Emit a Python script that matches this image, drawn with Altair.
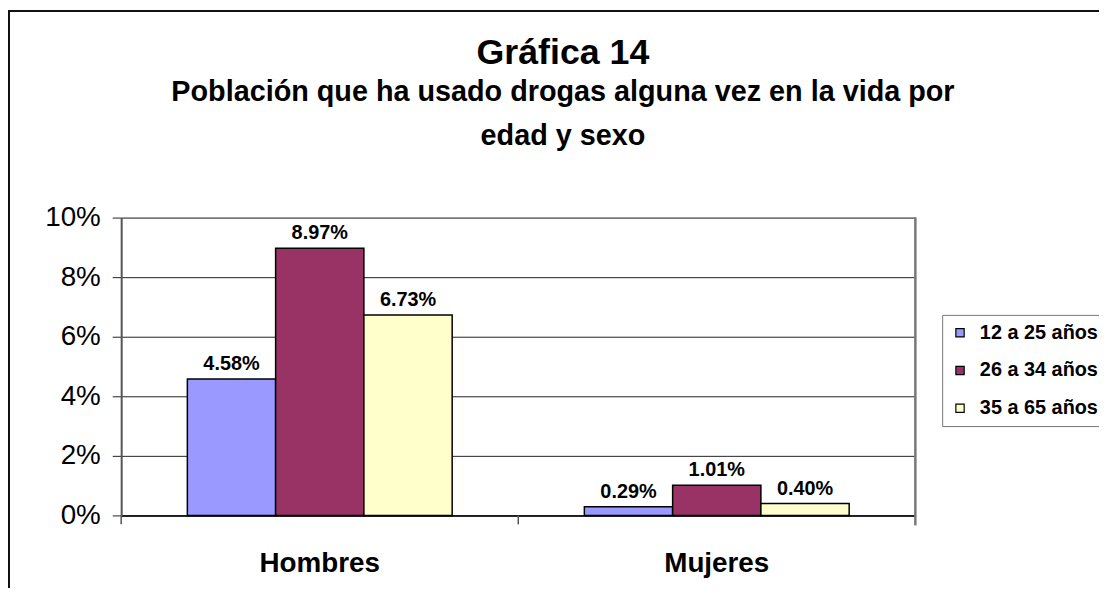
import altair as alt
import pandas as pd

categories = ["Hombres", "Mujeres"]
series = ["12 a 25 años", "26 a 34 años", "35 a 65 años"]
hombres = [0.0458, 0.0897, 0.0673]
mujeres = [0.0029, 0.0101, 0.0040]
colors = ["#9999FF", "#993366", "#FFFFCC"]
y_ticks = [0, 0.02, 0.04, 0.06, 0.08, 0.10]

rows = []
for s, h, m in zip(series, hombres, mujeres):
    rows.append({"sexo": "Hombres", "edad": s, "valor": h})
    rows.append({"sexo": "Mujeres", "edad": s, "valor": m})
df = pd.DataFrame(rows)
cat_df = pd.DataFrame({"sexo": categories})

FONT = "Liberation Sans"
W, H = 800, 300
PAD_L, PAD_T, PAD_R, PAD_B = 114, 209, 185, 73

x_scale = alt.Scale(domain=categories, paddingInner=0.333, paddingOuter=0.1667)
off_scale = alt.Scale(domain=series, paddingInner=0, paddingOuter=0)

x_enc = alt.X(
    "sexo:N",
    sort=categories,
    scale=x_scale,
    axis=alt.Axis(
        title=None, labelAngle=0, labelFont=FONT, labelFontSize=28,
        labelFontWeight="bold", labelColor="black", labelPadding=35,
        domainColor="black", domainWidth=1.5, ticks=False, grid=False,
    ),
)
y_enc = alt.Y(
    "valor:Q",
    scale=alt.Scale(domain=[0, 0.10], nice=False),
    axis=alt.Axis(
        title=None, values=y_ticks, format=".0%", labelFont=FONT,
        labelFontSize=28, labelColor="black", labelPadding=12,
        domainColor="#555555", domainWidth=2, tickColor="#222222", tickSize=9,
        grid=True, gridColor="#222222", gridWidth=1, gridOpacity=1,
    ),
)

bars = alt.Chart(df).mark_bar(stroke="black", strokeWidth=1.5).encode(
    x=x_enc,
    xOffset=alt.XOffset("edad:N", sort=series, scale=off_scale),
    y=y_enc,
    color=alt.Color(
        "edad:N", sort=series,
        scale=alt.Scale(domain=series, range=colors),
        legend=alt.Legend(
            title=None, orient="none", legendX=827, legendY=98,
            fillColor="white", strokeColor="#777777",
            padding=8, symbolType="square", symbolSize=70,
            symbolStrokeColor="black", symbolStrokeWidth=1.2,
            labelFont=FONT, labelFontSize=20, labelFontWeight="bold",
            labelColor="black", rowPadding=18, labelOffset=10,
            labelLimit=300,
        ),
    ),
)

labels = alt.Chart(df).mark_text(
    font=FONT, fontSize=20, fontWeight="bold", color="black",
    baseline="bottom", dy=-5,
).encode(
    x=alt.X("sexo:N", sort=categories, scale=x_scale, axis=None),
    xOffset=alt.XOffset("edad:N", sort=series, scale=off_scale),
    y=alt.Y("valor:Q"),
    text=alt.Text("valor:Q", format=".2%"),
)

cat_ticks = alt.Chart(cat_df).mark_rule(color="#555555", strokeWidth=1.5).encode(
    x=alt.X("sexo:N", sort=categories, bandPosition=0, axis=None,
            scale=alt.Scale(domain=categories, paddingInner=0, paddingOuter=0)),
    y=alt.value(H), y2=alt.value(H + 9),
)
right_tick = alt.Chart(cat_df).mark_rule(color="#777777", strokeWidth=2).encode(
    x=alt.value(W), y=alt.value(0), y2=alt.value(H + 10)
)
frame_top = alt.Chart(cat_df).mark_rule(color="#111111", strokeWidth=2).encode(
    x=alt.value(-PAD_L), x2=alt.value(W + PAD_R), y=alt.value(-PAD_T + 1)
)
frame_left = alt.Chart(cat_df).mark_rule(color="#111111", strokeWidth=2).encode(
    x=alt.value(-PAD_L + 1), y=alt.value(-PAD_T), y2=alt.value(H + PAD_B)
)

chart = alt.layer(bars, labels, cat_ticks, right_tick, frame_top, frame_left).resolve_scale(
    x="independent"
).properties(
    width=W,
    height=H,
    autosize=alt.AutoSizeParams(type="none"),
    padding={"left": PAD_L, "top": PAD_T, "right": PAD_R, "bottom": PAD_B},
    title=alt.TitleParams(
        text="Gráfica 14",
        subtitle=["Población que ha usado drogas alguna vez en la vida por",
                  "edad y sexo"],
        font=FONT, fontSize=36, fontWeight="bold", color="black",
        subtitleFont=FONT, subtitleFontSize=29, subtitleFontWeight="bold",
        subtitleColor="black", subtitleLineHeight=44, subtitlePadding=7,
        anchor="middle", frame="group", dx=45, offset=-144,
    ),
).configure_view(
    fill="#C0C0C0", stroke=None
).configure(background="white")

chart.save("out.html", embed_options={"renderer": "svg", "actions": False})
